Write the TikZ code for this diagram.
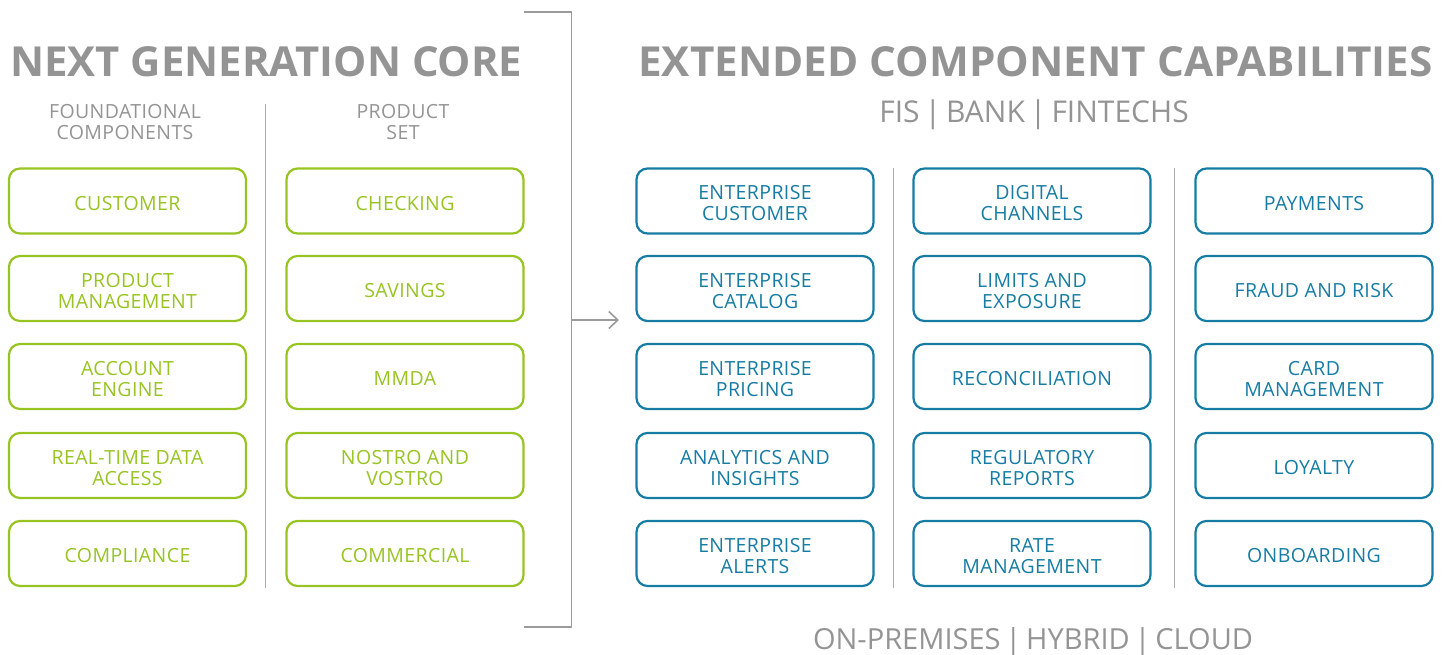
\documentclass[tikz,border=0pt]{standalone}
\usepackage{fontspec}
\setmainfont{Open Sans}
\newfontfamily\boxfont[LetterSpace=2]{Open Sans}
\usetikzlibrary{arrows.meta}
\definecolor{fgreen}{RGB}{151,196,34}
\definecolor{fblue}{RGB}{22,124,163}
\definecolor{fgray}{RGB}{148,148,148}
\definecolor{lgray}{RGB}{170,170,170}
\definecolor{bgray}{RGB}{155,155,155}
\tikzset{
  cbox/.style={draw, rounded corners=11pt, line width=2.2pt, minimum width=237pt,
    minimum height=65pt, inner sep=0pt},
  gbox/.style={cbox, draw=fgreen},
  bbox/.style={cbox, draw=fblue},
  ctxt/.style={inner sep=0pt, align=center, yshift=-2.2pt,
    font=\boxfont\fontsize{19.5}{21}\selectfont},
  gtxt/.style={ctxt, text=fgreen},
  btxt/.style={ctxt, text=fblue},
  subhead/.style={inner sep=0pt, align=center, text=fgray,
    font=\boxfont\fontsize{19.5}{21}\selectfont},
  title/.style={inner sep=0pt, anchor=south west, text=fgray},
  divider/.style={draw=lgray, line width=1pt},
  bracket/.style={draw=bgray, line width=1.6pt},
}
\newcommand\gb[4]{\node[gbox] (#1) at (#2) {};\node[gtxt] (#1t) at (#1.center) {#4};}
\newcommand\bb[4]{\node[bbox] (#1) at (#2) {};\node[btxt] (#1t) at (#1.center) {#4};}
\begin{document}
\begin{tikzpicture}[x=1pt,y=-1pt]
\useasboundingbox (0,0) rectangle (1450,654);
% titles
\node[title] (t1) at (10,77) {\resizebox{512pt}{30pt}{\bfseries NEXT GENERATION CORE}};
\node[title] (t2) at (638,77) {\resizebox{794pt}{30pt}{\bfseries EXTENDED COMPONENT CAPABILITIES}};
\node[title, anchor=base] (t3) at (1034,122) {\fontsize{30}{30}\selectfont FIS\,|\,BANK\,|\,FINTECHS};
\node[title, anchor=base] (t4) at (1033,649) {\fontsize{29}{29}\selectfont ON-PREMISES\,|\,HYBRID\,|\,CLOUD};
% subheadings
\node[subhead] (s1) at (125,122) {FOUNDATIONAL\\COMPONENTS};
\node[subhead] (s2) at (403,122) {PRODUCT\\SET};
% dividers
\draw[divider] (265.5,104) -- (265.5,588);
\draw[divider] (893.5,168) -- (893.5,588);
\draw[divider] (1174,168) -- (1174,588);
% left boxes
\gb{a1}{127.5,201}{}{CUSTOMER}
\gb{a2}{127.5,288.5}{}{PRODUCT\\MANAGEMENT}
\gb{a3}{127.5,376.5}{}{ACCOUNT\\ENGINE}
\gb{a4}{127.5,465.5}{}{REAL-TIME DATA\\ACCESS}
\gb{a5}{127.5,553.5}{}{COMPLIANCE}
\gb{b1}{405,201}{}{CHECKING}
\gb{b2}{405,288.5}{}{SAVINGS}
\gb{b3}{405,376.5}{}{MMDA}
\gb{b4}{405,465.5}{}{NOSTRO AND\\VOSTRO}
\gb{b5}{405,553.5}{}{COMMERCIAL}
% right boxes
\bb{c1}{755,201}{}{ENTERPRISE\\CUSTOMER}
\bb{c2}{755,288.5}{}{ENTERPRISE\\CATALOG}
\bb{c3}{755,376.5}{}{ENTERPRISE\\PRICING}
\bb{c4}{755,465.5}{}{ANALYTICS AND\\INSIGHTS}
\bb{c5}{755,553.5}{}{ENTERPRISE\\ALERTS}
\bb{d1}{1032,201}{}{DIGITAL\\CHANNELS}
\bb{d2}{1032,288.5}{}{LIMITS AND\\EXPOSURE}
\bb{d3}{1032,376.5}{}{RECONCILIATION}
\bb{d4}{1032,465.5}{}{REGULATORY\\REPORTS}
\bb{d5}{1032,553.5}{}{RATE\\MANAGEMENT}
\bb{e1}{1314,201}{}{PAYMENTS}
\bb{e2}{1314,288.5}{}{FRAUD AND RISK}
\bb{e3}{1314,376.5}{}{CARD\\MANAGEMENT}
\bb{e4}{1314,465.5}{}{LOYALTY}
\bb{e5}{1314,553.5}{}{ONBOARDING}
% bracket and arrow
\coordinate (bt) at (524,12);
\coordinate (bb) at (524,627);
\coordinate (bm) at (571.5,320);
\coordinate (tip) at (619,320);
\draw[bracket] (bt) -| (571.5,627) -- (bb);
\draw[bracket, -{Straight Barb[length=9pt,width=17pt,line width=1.6pt]}] (bm) -- (tip);
\end{tikzpicture}
\end{document}
